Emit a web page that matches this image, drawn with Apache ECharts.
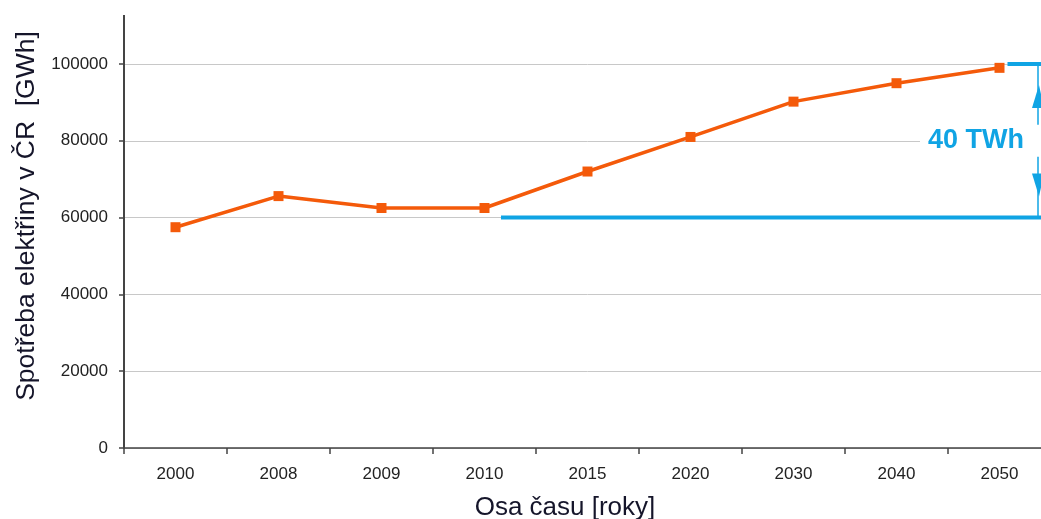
<!DOCTYPE html>
<html>
<head>
<meta charset="utf-8">
<script src="https://cdn.jsdelivr.net/npm/echarts@6/dist/echarts.min.js"></script>
<style>
  html, body { margin: 0; padding: 0; background: #fff; overflow: hidden; }
  /* plot area runs slightly past the right edge of the window */
  #chart { width: 1051px; height: 519px; }
</style>
</head>
<body>
<div id="chart"></div>
<script>
// Electricity consumption in the Czech Republic, history and outlook
const years = ['2000', '2008', '2009', '2010', '2015', '2020', '2030', '2040', '2050'];
const consumption = [57500, 65600, 62500, 62500, 72000, 81000, 90200, 95000, 99000];
const yMin = 0;
const yMax = 100000;
const yStep = 20000;
// growth bracket: from today's level to the 2050 level
const baseLevel = 60000;
const targetLevel = 100000;
const bracketLabel = ((targetLevel - baseLevel) / 1000) + ' TWh';

const yTitle = 'Spotřeba elektřiny v ČR  [GWh]';
const xTitle = 'Osa času [roky]';

const FONT = '"Liberation Sans", Arial, sans-serif';
const TEXT = '#15152a';
const LINE = '#f45a0a';
const BLUE = '#10a4e4';
const VIEW_W = 1041;

const chart = echarts.init(document.getElementById('chart'), null, { renderer: 'canvas' });

chart.setOption({
  animation: false,
  backgroundColor: '#ffffff',
  grid: { left: 124, right: 0, top: 64, bottom: 71, containLabel: false },
  xAxis: {
    type: 'category',
    data: years,
    boundaryGap: true,
    axisLine: { lineStyle: { color: '#444', width: 1.5 } },
    axisTick: { show: true, length: 6, lineStyle: { color: '#444', width: 1.5 } },
    axisLabel: { color: '#222', fontFamily: FONT, fontSize: 17, margin: 18 },
    splitLine: { show: false }
  },
  yAxis: {
    type: 'value',
    min: yMin,
    max: yMax,
    interval: yStep,
    axisLine: { show: true, lineStyle: { color: '#444', width: 2 } },
    axisTick: { show: true, length: 5, lineStyle: { color: '#444', width: 1.5 } },
    axisLabel: { color: '#222', fontFamily: FONT, fontSize: 17, margin: 16,
                 formatter: function (v) { return String(v); } },
    splitLine: { show: true, lineStyle: { color: '#c8c8c8', width: 1 } }
  },
  series: [{
    type: 'line',
    data: consumption,
    symbol: 'rect',
    symbolSize: 10,
    lineStyle: { color: LINE, width: 3.5 },
    itemStyle: { color: LINE },
    z: 5
  }]
});

// Annotations placed through the chart's own scales
function drawOverlay() {
  const yBase = chart.convertToPixel({ yAxisIndex: 0 }, baseLevel);
  const yTop = chart.convertToPixel({ yAxisIndex: 0 }, targetLevel);
  const x2010 = chart.convertToPixel({ xAxisIndex: 0 }, '2010');
  const x2015 = chart.convertToPixel({ xAxisIndex: 0 }, '2015');
  const x2050 = chart.convertToPixel({ xAxisIndex: 0 }, '2050');
  const band = x2015 - x2010;
  const xAxisLeft = chart.convertToPixel({ xAxisIndex: 0 }, '2000') - band / 2;
  const xArrow = VIEW_W - 3;
  const yMid = (yBase + yTop) / 2;

  chart.setOption({
    graphic: [
      // y axis line continues above the top tick
      { type: 'line', z: 10, shape: { x1: xAxisLeft, y1: 15, x2: xAxisLeft, y2: yTop },
        style: { stroke: '#444', lineWidth: 2 } },
      // base level line
      { type: 'line', z: 20, shape: { x1: x2010 + band * 0.16, y1: yBase, x2: VIEW_W + 5, y2: yBase },
        style: { stroke: BLUE, lineWidth: 4 } },
      // target level line
      { type: 'line', z: 20, shape: { x1: x2050 + 8, y1: yTop, x2: VIEW_W + 5, y2: yTop },
        style: { stroke: BLUE, lineWidth: 4 } },
      // vertical bracket
      { type: 'line', z: 20, shape: { x1: xArrow, y1: yTop, x2: xArrow, y2: yBase },
        style: { stroke: BLUE, lineWidth: 1.5 } },
      { type: 'polygon', z: 21,
        shape: { points: [[xArrow - 6, yTop + 44], [xArrow + 6, yTop + 44], [xArrow + 1, yTop + 21]] },
        style: { fill: BLUE } },
      { type: 'polygon', z: 21,
        shape: { points: [[xArrow - 6, yBase - 44], [xArrow + 6, yBase - 44], [xArrow + 1, yBase - 21]] },
        style: { fill: BLUE } },
      // label box
      { type: 'rect', z: 22, shape: { x: 920, y: yMid - 16, width: VIEW_W - 920 + 10, height: 32 },
        style: { fill: '#ffffff' } },
      { type: 'text', z: 23, x: 976, y: yMid,
        style: { text: bracketLabel, font: 'bold 27px ' + FONT, fill: BLUE, align: 'center', verticalAlign: 'middle' } },
      // axis titles
      { type: 'text', z: 30, x: 27, y: 216, rotation: Math.PI / 2,
        style: { text: yTitle, font: '26.5px ' + FONT, fill: TEXT, align: 'center', verticalAlign: 'middle' } },
      { type: 'text', z: 30, x: 565, y: 508,
        style: { text: xTitle, font: '26px ' + FONT, fill: TEXT, align: 'center', verticalAlign: 'middle' } }
    ]
  });
}
drawOverlay();
</script>
</body>
</html>
